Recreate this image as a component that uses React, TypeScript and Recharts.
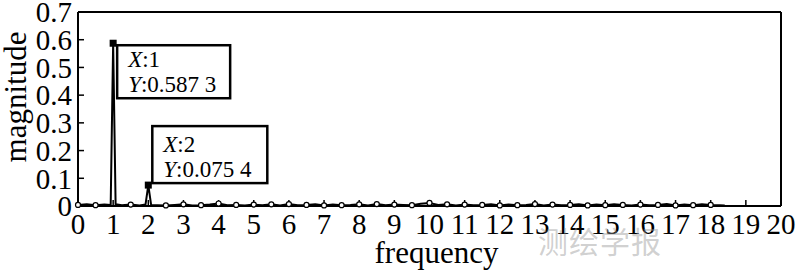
import React from 'react'
import { LineChart, Line, XAxis, YAxis, ReferenceDot, Label } from 'recharts'

// spectrum samples (frequency, magnitude)
const frequency = [
  0, 0.25, 0.5, 0.75, 0.93, 1, 1.07, 1.25, 1.5, 1.75, 1.92, 2, 2.08, 2.25, 2.5, 2.75,
  3, 3.25, 3.5, 3.75, 4, 4.25, 4.5, 4.75, 5, 5.25, 5.5, 5.75, 6, 6.25, 6.5, 6.75,
  7, 7.25, 7.5, 7.75, 8, 8.25, 8.5, 8.75, 9, 9.25, 9.5, 9.75, 10, 10.25, 10.5, 10.75,
  11, 11.25, 11.5, 11.75, 12, 12.25, 12.5, 12.75, 13, 13.25, 13.5, 13.75, 14, 14.25, 14.5, 14.75,
  15, 15.25, 15.5, 15.75, 16, 16.25, 16.5, 16.75, 17, 17.25, 17.5, 17.75, 18, 18.25, 18.4,
]
const magnitude = [
  0.004, 0.006, 0.003, 0.005, 0.004, 0.5873, 0.006, 0.003, 0.005, 0.002, 0.005, 0.0754, 0.004, 0.003, 0.002, 0.004,
  0.006, 0.002, 0.003, 0.005, 0.009, 0.003, 0.004, 0.002, 0.005, 0.003, 0.006, 0.002, 0.007, 0.003, 0.004, 0.006,
  0.002, 0.005, 0.003, 0.004, 0.006, 0.002, 0.007, 0.003, 0.005, 0.004, 0.003, 0.008, 0.011, 0.004, 0.006, 0.002,
  0.005, 0.003, 0.004, 0.006, 0.002, 0.005, 0.003, 0.004, 0.007, 0.002, 0.005, 0.003, 0.004, 0.006, 0.002, 0.005,
  0.003, 0.006, 0.004, 0.002, 0.005, 0.003, 0.004, 0.007, 0.002, 0.005, 0.003, 0.006, 0.004, 0.003, 0.002,
]

const xTicks = [0, 1, 2, 3, 4, 5, 6, 7, 8, 9, 10, 11, 12, 13, 14, 15, 16, 17, 18, 19, 20]
const yTicks = [0, 0.1, 0.2, 0.3, 0.4, 0.5, 0.6, 0.7]
const yTickLabels = ['0', '0.1', '0.2', '0.3', '0.4', '0.5', '0.6', '0.7']

// data tips
const tips = [
  { x: 1, y: 0.5873, xText: '1', yText: '0.587 3', below: true },
  { x: 2, y: 0.0754, xText: '2', yText: '0.075 4', below: false },
]

const data = frequency.map((f, i) => ({ f, m: magnitude[i] }))

const FONT = "'Liberation Serif', 'Times New Roman', serif"

const renderDot = (p: any) => {
  const f = p.payload.f
  if (f * 2 !== Math.round(f * 2) || f === 1 || f === 2) return <g key={p.index} />
  return <circle key={p.index} cx={p.cx} cy={p.cy} r={2.5} fill="#fff" stroke="#000" strokeWidth={1.2} />
}

const tipShape = (tip: any) => (p: any) => {
  const { cx, cy } = p
  const w = tip.below ? 113 : 115
  const h = tip.below ? 53 : 57
  const bx = cx + 4
  const by = tip.below ? cy + 2 : cy - 2 - h
  const l1 = tip.below ? cy + 24 : cy - 33
  const l2 = tip.below ? cy + 49 : cy - 8
  return (
    <g>
      <rect x={cx - 3.5} y={cy - 3.5} width={7} height={7} fill="#000" />
      <rect x={bx} y={by} width={w} height={h} fill="#fff" stroke="#000" strokeWidth={2.5} />
      <text x={cx + 15} y={l1} fontFamily={FONT} fontSize={23} fill="#000">
        <tspan fontStyle="italic">X</tspan>:{tip.xText}
      </text>
      <text x={cx + 15} y={l2} fontFamily={FONT} fontSize={23} fill="#000">
        <tspan fontStyle="italic">Y</tspan>:{tip.yText}
      </text>
    </g>
  )
}

const yLabel = (p: any) => {
  const vb = p.viewBox
  const cx = vb.x + 15
  const cy = vb.y + vb.height / 2 - 12
  return (
    <text x={cx} y={cy} transform={`rotate(-90, ${cx}, ${cy})`} textAnchor="middle" dominantBaseline="central"
      fontFamily={FONT} fontSize={31} fill="#000">magnitude</text>
  )
}

const xLabel = (p: any) => {
  const vb = p.viewBox
  return (
    <text x={vb.x + vb.width / 2 + 7} y={263} textAnchor="middle" fontFamily={FONT} fontSize={31} fill="#000">
      frequency
    </text>
  )
}

export default function App() {
  const tick = { fontSize: 29, fill: '#000', fontFamily: FONT }
  return (
    <div style={{ position: 'absolute', left: 0, top: 0, width: 800, height: 273, background: '#fff' }}>
      <LineChart width={800} height={273} data={data} margin={{ top: 12, right: 19, bottom: 0, left: 0 }}>
        <XAxis dataKey="f" type="number" domain={[0, 20]} ticks={xTicks} interval={0}
          height={67} tick={tick} tickSize={-6} tickMargin={13}
          axisLine={{ stroke: '#000', strokeWidth: 2 }} tickLine={{ stroke: '#000', strokeWidth: 1.5 }}>
          <Label content={xLabel} />
        </XAxis>
        <XAxis xAxisId="top" orientation="top" dataKey="f" type="number" domain={[0, 20]} ticks={xTicks}
          interval={0} mirror tick={false} tickSize={6}
          axisLine={{ stroke: '#000', strokeWidth: 2 }} tickLine={{ stroke: '#000', strokeWidth: 1.5 }} />
        <YAxis type="number" domain={[0, 0.7]} ticks={yTicks} interval={0} width={78}
          tick={tick} tickSize={-6} tickMargin={12} tickFormatter={(v: number, i: number) => yTickLabels[i]}
          axisLine={{ stroke: '#000', strokeWidth: 2 }} tickLine={{ stroke: '#000', strokeWidth: 1.5 }}>
          <Label content={yLabel} />
        </YAxis>
        <YAxis yAxisId="right" orientation="right" type="number" domain={[0, 0.7]} ticks={yTicks}
          interval={0} mirror tick={false} tickSize={6}
          axisLine={{ stroke: '#000', strokeWidth: 2 }} tickLine={{ stroke: '#000', strokeWidth: 1.5 }} />
        <Line dataKey="m" stroke="#000" strokeWidth={2} dot={renderDot} isAnimationActive={false} type="linear" />
        {tips.map((t) => (
          <ReferenceDot key={t.x} x={t.x} y={t.y} shape={tipShape(t)} />
        ))}
      </LineChart>
      <div style={{ position: 'absolute', left: 538, top: 218, fontFamily: "'Noto Sans CJK SC'", fontSize: 30,
        color: 'rgba(150,150,150,0.45)', letterSpacing: 1, pointerEvents: 'none' }}>测绘学报</div>
    </div>
  )
}
